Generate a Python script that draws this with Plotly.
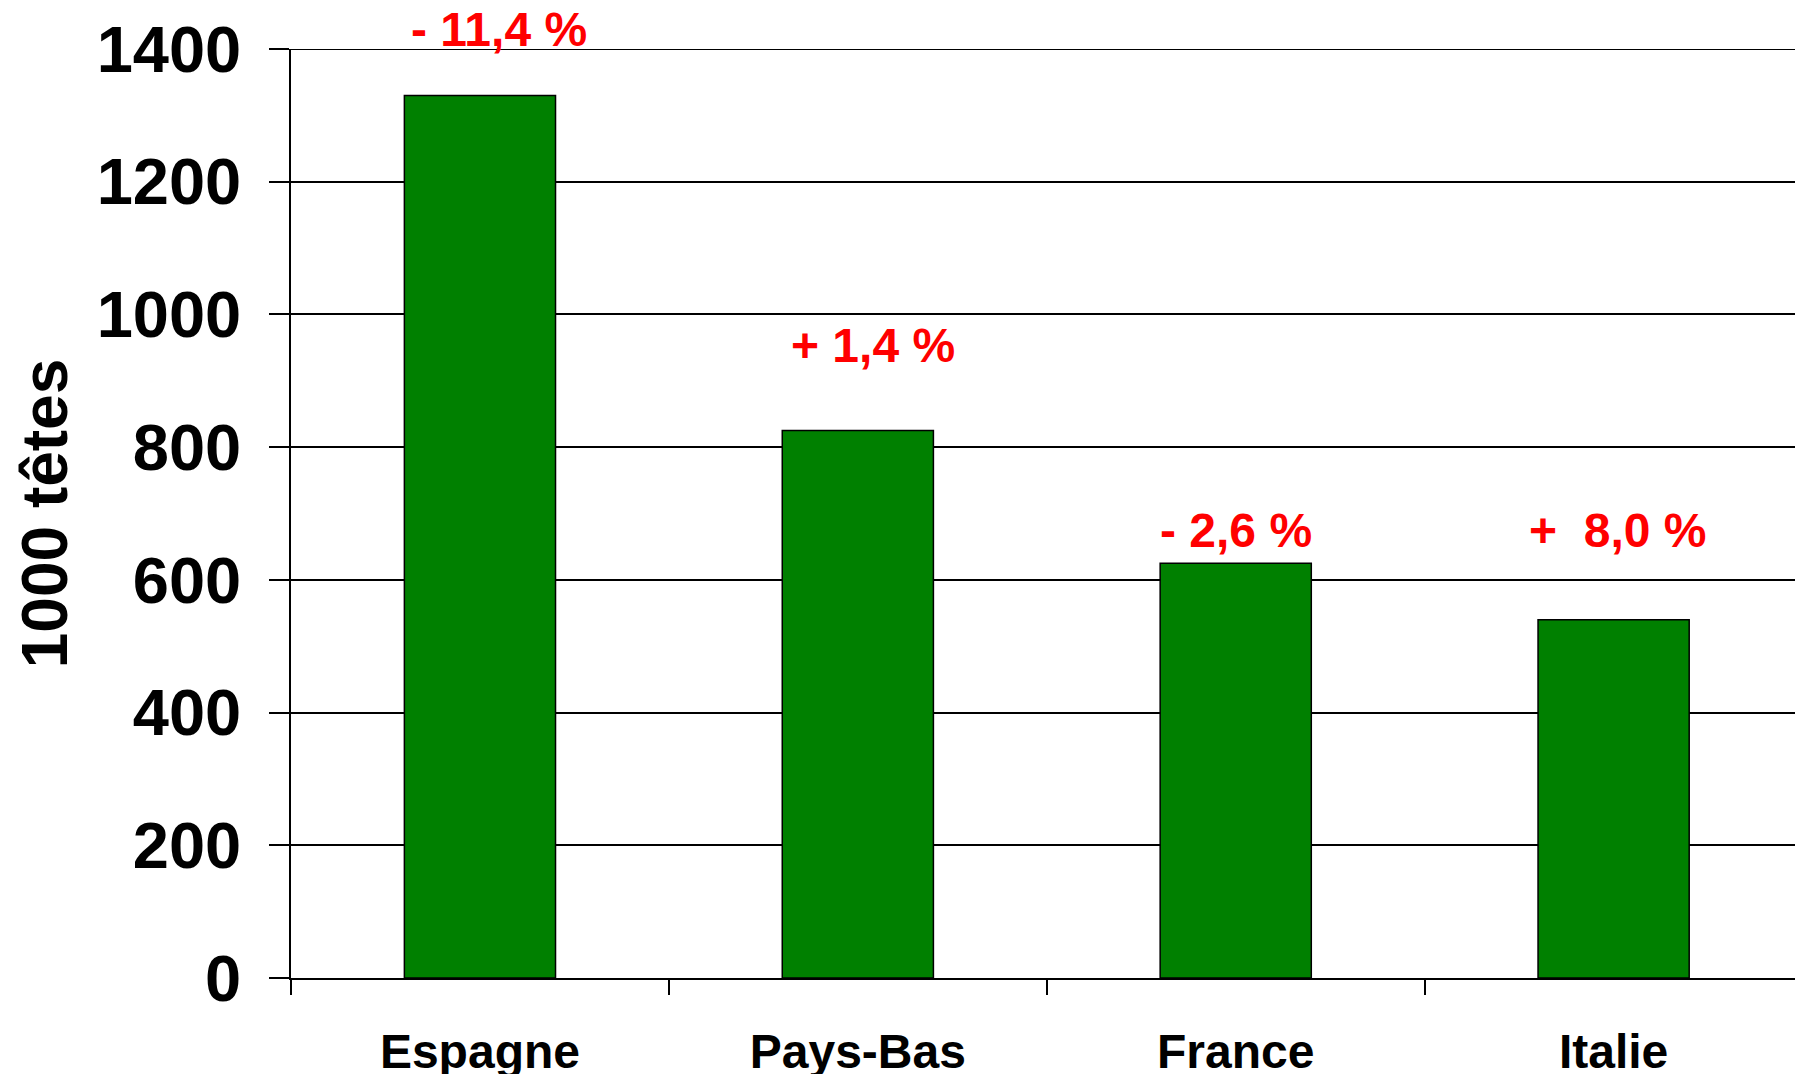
import plotly.graph_objects as go

# cheptel par pays, en milliers de têtes
pays = ["Espagne", "Pays-Bas", "France", "Italie"]
effectifs = [1330, 825, 625, 540]
evolutions = ["- 11,4 %", "+ 1,4 %", "- 2,6 %", "+\u00a0\u00a08,0 %"]
pos_evol = [1429, 953, 674, 674]
decal_evol = [0.05, 0.04, 0.0, 0.01]
graduations = [0, 200, 400, 600, 800, 1000, 1200, 1400]
ymax = 1400

police = "Liberation Sans, Arial, sans-serif"

fig = go.Figure()
fig.add_trace(go.Bar(x=pays,
                     y=effectifs,
                     width=0.4,
                     marker=dict(color="#008000", line=dict(color="black", width=1.5)),
                     showlegend=False))

# annotations en coordonnées papier pour ne pas être coupées au-dessus de 1400
for i, txt in enumerate(evolutions):
    fig.add_annotation(x=i + decal_evol[i], y=pos_evol[i] / ymax, yref="paper",
                       text=txt, showarrow=False, xanchor="center", yanchor="middle",
                       font=dict(family=police, size=48, color="#ff0000", weight="bold"))

# plotly ne trace pas la grille tout en haut, on l'ajoute à la main
fig.add_shape(type="line", xref="paper", yref="y", x0=0, x1=1, y0=ymax, y1=ymax,
              line=dict(color="black", width=2), layer="below")

fig.update_layout(width=1795, height=1074,
                  margin=dict(l=291, r=0, t=49, b=96),
                  plot_bgcolor="white", paper_bgcolor="white",
                  font=dict(family=police, color="black"))

fig.update_xaxes(type="category",
                 range=[-0.5, 3.48],
                 tickson="boundaries",
                 ticks="outside", ticklen=15, tickwidth=1.5, tickcolor="black",
                 showline=True, linecolor="black", linewidth=2,
                 showgrid=False, zeroline=False,
                 tickfont=dict(family=police, size=48, weight="bold"),
                 ticklabelstandoff=30,
                 automargin=False)

fig.update_yaxes(range=[0, ymax],
                 tickmode="array", tickvals=graduations,
                 ticks="outside", ticklen=20, tickwidth=2, tickcolor="black",
                 showline=True, linecolor="black", linewidth=1.5,
                 showgrid=True, gridcolor="black", gridwidth=2,
                 zeroline=False,
                 tickfont=dict(family=police, size=65, weight="bold"),
                 ticklabelstandoff=15,
                 title=dict(text="1000 têtes", standoff=8,
                            font=dict(family=police, size=64, weight="bold")),
                 automargin=False)

# pas de marge autour du graphique dans la page, pas de barre d'outils
fig.write_html("out.html",
               config={"displayModeBar": False},
               post_script="document.body.style.margin='0';document.body.style.overflow='hidden';")
